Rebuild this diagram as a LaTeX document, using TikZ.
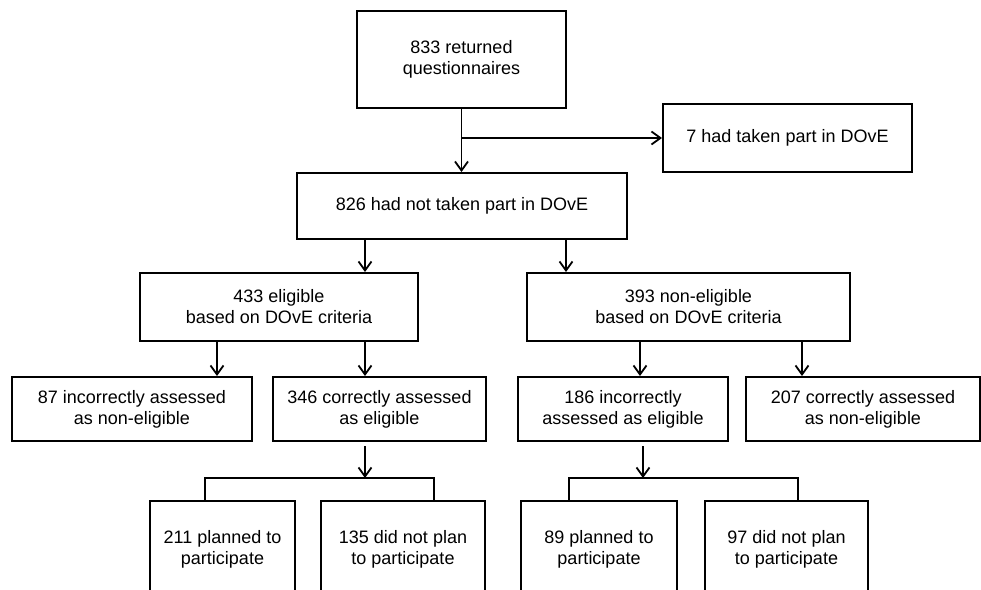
\documentclass[tikz,border=0pt]{standalone}
\usepackage{fontspec}
\setmainfont{Liberation Sans}
\usepackage{tikz}
\usetikzlibrary{arrows.meta}
\tikzset{>={Straight Barb[length=9pt,width=13pt]}}
\tikzset{box/.style={draw, rectangle, line width=2pt, align=center, inner sep=0pt,
    font=\fontsize{18}{21}\selectfont}}

\begin{document}
\begin{tikzpicture}[x=1pt, y=-1pt, line width=1.8pt]

  \useasboundingbox (0,0) rectangle (981,589);
  \clip (0,0) rectangle (981,589);

  \node[box, minimum width=209pt, minimum height=97pt] (ret) at (461.5,59.5) {833 returned\\questionnaires};
  \node[box, minimum width=249pt, minimum height=68pt] (took) at (787.5,138) {7 had taken part in DOvE};
  \node[box, minimum width=330pt, minimum height=66pt] (nottook) at (462,206) {826 had not taken part in DOvE};

  \node[box, minimum width=278pt, minimum height=68pt] (elig) at (279,307) {433 eligible\\based on DOvE criteria};
  \node[box, minimum width=323pt, minimum height=68pt] (nonelig) at (688.5,307) {393 non-eligible\\based on DOvE criteria};

  \node[box, minimum width=240pt, minimum height=64pt] (incnon) at (132,409) {87 incorrectly assessed\\as non-eligible};
  \node[box, minimum width=213pt, minimum height=64pt] (corel) at (379.5,409) {346 correctly assessed\\as eligible};
  \node[box, minimum width=210pt, minimum height=64pt] (incel) at (623,409) {186 incorrectly\\assessed as eligible};
  \node[box, minimum width=234pt, minimum height=64pt] (cornon) at (863,409) {207 correctly assessed\\as non-eligible};

  \node[box, minimum width=145pt, minimum height=96pt] (planA) at (222.5,549) {211 planned to\\participate};
  \node[box, minimum width=164pt, minimum height=96pt] (noplanA) at (403,549) {135 did not plan\\to participate};
  \node[box, minimum width=156pt, minimum height=96pt] (planB) at (599,549) {89 planned to\\participate};
  \node[box, minimum width=163pt, minimum height=96pt] (noplanB) at (786.5,549) {97 did not plan\\to participate};

  \coordinate (split) at (ret.south |- took.west);
  \coordinate (brA) at (365,478);
  \coordinate (brB) at (643,478);

  \draw[->] (ret.south) -- (ret.south |- nottook.north); % ret->nottook
  \draw[->] (split) -- (took.west); % ret->took

  \draw[->] (365,0 |- nottook.south) -- (365,0 |- elig.north); % nottook->elig
  \draw[->] (566,0 |- nottook.south) -- (566,0 |- nonelig.north); % nottook->nonelig

  \draw[->] (217,0 |- elig.south) -- (217,0 |- incnon.north); % elig->incnon
  \draw[->] (365,0 |- elig.south) -- (365,0 |- corel.north); % elig->corel
  \draw[->] (640,0 |- nonelig.south) -- (640,0 |- incel.north); % nonelig->incel
  \draw[->] (802,0 |- nonelig.south) -- (802,0 |- cornon.north); % nonelig->cornon

  \draw[->] ([yshift=-4pt]corel.south -| brA) -- (brA); % corel->bracket
  \draw (205,0 |- planA.north) |- (brA) -| (434,0 |- noplanA.north);

  \draw[->] ([yshift=-4pt]incel.south -| brB) -- (brB); % incel->bracket
  \draw (569,0 |- planB.north) |- (brB) -| (798,0 |- noplanB.north);

\end{tikzpicture}
\end{document}
